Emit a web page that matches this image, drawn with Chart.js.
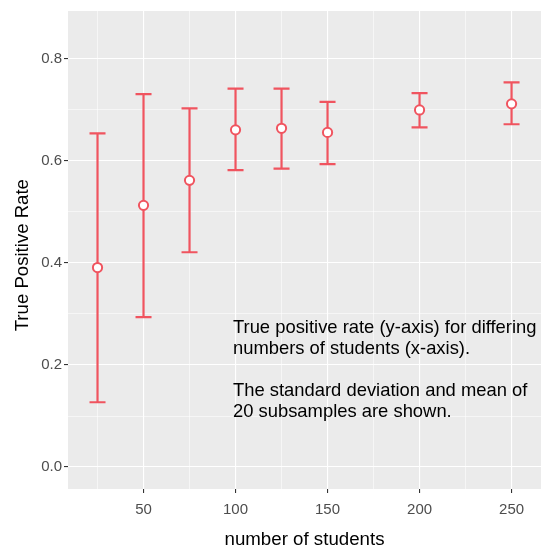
<!DOCTYPE html>
<html>
<head>
<meta charset="utf-8">
<script src="https://cdn.jsdelivr.net/npm/chart.js@4.4.1/dist/chart.umd.min.js"></script>
<style>
  html, body { margin: 0; padding: 0; background: #ffffff; }
  #wrap { width: 543px; height: 546px; position: relative; }
</style>
</head>
<body>
<div id="wrap"><canvas id="c" width="543" height="546"></canvas></div>
<script>
// ---- data ----
const students  = [25, 50, 75, 100, 125, 150, 200, 250];
const meanTPR   = [0.391, 0.513, 0.562, 0.661, 0.664, 0.656, 0.700, 0.712];
const upperTPR  = [0.654, 0.731, 0.703, 0.742, 0.742, 0.716, 0.733, 0.754];
const lowerTPR  = [0.127, 0.294, 0.421, 0.582, 0.585, 0.594, 0.666, 0.672];
const xTickValues = [25, 50, 75, 100, 125, 150, 175, 200, 225, 250];
const xTickLabels = ['', '50', '', '100', '', '150', '', '200', '', '250'];
const yTickValues = [0, 0.1, 0.2, 0.3, 0.4, 0.5, 0.6, 0.7, 0.8];
const yTickLabels = ['0.0', '', '0.2', '', '0.4', '', '0.6', '', '0.8'];
const capHalfWidth = 4.35; // error bar cap half width in x data units
const noteLines = [
  'True positive rate (y-axis) for differing',
  'numbers of students (x-axis).',
  '',
  'The standard deviation and mean of',
  '20 subsamples are shown.'
];
const noteAnchor = { x: 98.6, y: 0.190 };

const RED = '#F0545F';
const FONT = "'Liberation Sans', Arial, Helvetica, sans-serif";

// build error bar segments (separated by gaps)
const barPts = [];
students.forEach((s, i) => {
  barPts.push({ x: s, y: lowerTPR[i] }, { x: s, y: upperTPR[i] }, { x: s, y: null });
  barPts.push({ x: s - capHalfWidth, y: upperTPR[i] }, { x: s + capHalfWidth, y: upperTPR[i] }, { x: s, y: null });
  barPts.push({ x: s - capHalfWidth, y: lowerTPR[i] }, { x: s + capHalfWidth, y: lowerTPR[i] }, { x: s, y: null });
});
const meanPts = students.map((s, i) => ({ x: s, y: meanTPR[i] }));

const panelBg = {
  id: 'panelBg',
  beforeDraw(chart) {
    const { ctx, chartArea: a } = chart;
    ctx.save();
    ctx.fillStyle = '#ffffff';
    ctx.fillRect(0, 0, chart.width, chart.height);
    ctx.fillStyle = '#EBEBEB';
    ctx.fillRect(a.left, a.top, a.right - a.left, a.bottom - a.top);
    ctx.restore();
  }
};

const note = {
  id: 'note',
  afterDraw(chart) {
    const { ctx, scales } = chart;
    const x0 = scales.x.getPixelForValue(noteAnchor.x);
    const yc = scales.y.getPixelForValue(noteAnchor.y);
    const lh = 21;
    ctx.save();
    ctx.fillStyle = '#000000';
    ctx.font = '18.4px ' + FONT;
    ctx.textAlign = 'left';
    ctx.textBaseline = 'middle';
    noteLines.forEach((t, i) => {
      ctx.fillText(t, x0, yc + (i - (noteLines.length - 1) / 2) * lh);
    });
    ctx.restore();
  }
};

new Chart(document.getElementById('c'), {
  data: {
    datasets: [
      {
        type: 'scatter',
        data: meanPts,
        pointRadius: 4.6,
        pointHoverRadius: 4.6,
        pointBorderWidth: 2,
        pointBorderColor: RED,
        pointBackgroundColor: '#ffffff',
        order: 0
      },
      {
        type: 'line',
        data: barPts,
        borderColor: RED,
        borderWidth: 2.2,
        pointRadius: 0,
        spanGaps: false,
        fill: false,
        tension: 0,
        borderCapStyle: 'butt',
        order: 1
      }
    ]
  },
  options: {
    responsive: false,
    animation: false,
    events: [],
    layout: { autoPadding: false, padding: { top: 11, right: 2, left: 0, bottom: 0 } },
    plugins: { legend: { display: false }, tooltip: { enabled: false } },
    scales: {
      x: {
        type: 'linear',
        min: 8.96,
        max: 266,
        afterBuildTicks: s => { s.ticks = xTickValues.map(v => ({ value: v })); },
        afterFit: s => { s.height = 57; s.paddingLeft = 0; s.paddingRight = 0; },
        ticks: {
          autoSkip: false,
          maxRotation: 0,
          padding: 8,
          color: '#4D4D4D',
          font: { family: FONT, size: 15 },
          callback: (v, i) => xTickLabels[i]
        },
        grid: {
          color: '#ffffff',
          lineWidth: c => (xTickLabels[c.index] ? 1.1 : 0.55),
          tickColor: c => (xTickLabels[c.index] ? '#333333' : 'rgba(0,0,0,0)'),
          tickLength: 4,
          tickWidth: 1.1
        },
        border: { display: false },
        title: {
          display: true,
          text: 'number of students',
          color: '#000000',
          font: { family: FONT, size: 18.7 },
          padding: { top: 0, bottom: -5 }
        }
      },
      y: {
        type: 'linear',
        min: -0.0431,
        max: 0.894,
        afterBuildTicks: s => { s.ticks = yTickValues.map(v => ({ value: v })); },
        afterFit: s => { s.width = 68; s.paddingTop = 0; s.paddingBottom = 0; },
        ticks: {
          autoSkip: false,
          padding: 2,
          color: '#4D4D4D',
          font: { family: FONT, size: 15 },
          callback: (v, i) => yTickLabels[i]
        },
        grid: {
          color: '#ffffff',
          lineWidth: c => (yTickLabels[c.index] ? 1.1 : 0.55),
          tickColor: c => (yTickLabels[c.index] ? '#333333' : 'rgba(0,0,0,0)'),
          tickLength: 4,
          tickWidth: 1.1
        },
        border: { display: false },
        title: {
          display: true,
          text: 'True Positive Rate  ',
          color: '#000000',
          font: { family: FONT, size: 18.6 },
          padding: { top: 12, bottom: 0 }
        }
      }
    }
  },
  plugins: [panelBg, note]
});
</script>
</body>
</html>
